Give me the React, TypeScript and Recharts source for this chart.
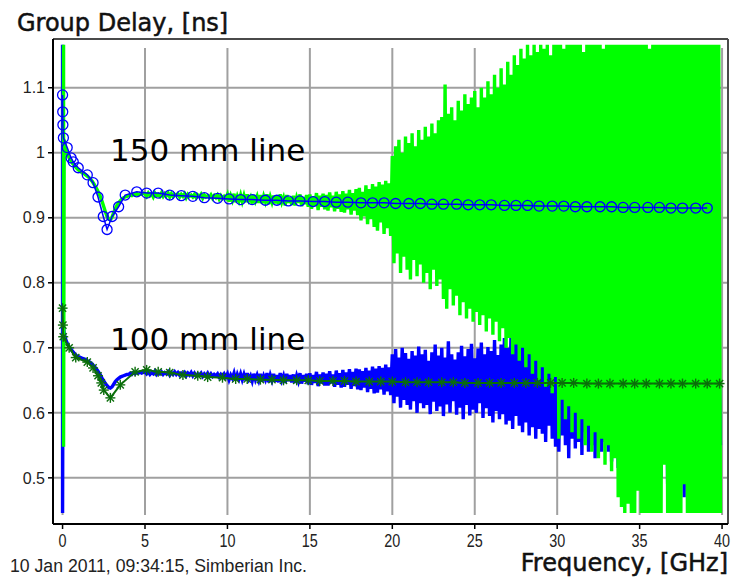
import React from 'react';
import { LineChart, Line, XAxis, YAxis, CartesianGrid, ReferenceLine } from 'recharts';

// ---- axes ----
const X_TICKS = [0, 5, 10, 15, 20, 25, 30, 35, 40];
const Y_TICKS = [0.5, 0.6, 0.7, 0.8, 0.9, 1, 1.1];
const X_DOMAIN: [number, number] = [-0.58, 40.36];
const Y_DOMAIN: [number, number] = [0.429, 1.175];

// ---- measured group delay, sampled every 0.1 GHz from 0.1 to 39.9 GHz ----
const MEAS_STEP = 0.1;

// 150 mm line, measured (green)
const green150Head = [[0.06, 1.166], [0.06, 0.548]];
const green150 = [
  1.020,1.005,0.998,0.992,0.988,0.984,0.981,0.978,0.975,
  0.973,0.971,0.969,0.968,0.966,0.964,0.962,0.959,0.956,0.952,
  0.948,0.943,0.938,0.932,0.925,0.917,0.909,0.902,0.898,0.897,
  0.901,0.908,0.914,0.919,0.923,0.926,0.929,0.931,0.932,0.933,
  0.934,0.935,0.934,0.936,0.935,0.937,0.935,0.937,0.936,0.938,
  0.937,0.933,0.938,0.934,0.937,0.932,0.938,0.934,0.936,0.933,
  0.938,0.933,0.937,0.934,0.938,0.932,0.937,0.933,0.936,0.934,
  0.937,0.932,0.936,0.933,0.937,0.931,0.936,0.933,0.935,0.932,
  0.936,0.931,0.935,0.932,0.936,0.930,0.935,0.932,0.934,0.931,
  0.935,0.930,0.934,0.931,0.935,0.929,0.934,0.930,0.933,0.930,
  0.936,0.925,0.934,0.927,0.937,0.924,0.933,0.926,0.935,0.925,
  0.934,0.924,0.936,0.927,0.932,0.922,0.935,0.926,0.933,0.923,
  0.935,0.922,0.933,0.925,0.936,0.921,0.932,0.924,0.934,0.922,
  0.933,0.921,0.936,0.924,0.931,0.919,0.935,0.923,0.932,0.920,
  0.934,0.919,0.931,0.923,0.936,0.918,0.932,0.921,0.935,0.917,
  0.936,0.914,0.933,0.918,0.938,0.912,0.934,0.917,0.937,0.913,
  0.935,0.911,0.939,0.916,0.934,0.910,0.940,0.914,0.936,0.909,
  0.941,0.908,0.937,0.913,0.943,0.905,0.938,0.911,0.944,0.904,
  0.946,0.896,0.940,0.902,0.950,0.890,0.944,0.898,0.952,0.886,
  0.948,0.880,0.955,0.893,0.951,0.875,0.957,0.884,0.953,0.872,
  0.995,0.830,1.010,0.845,1.020,0.815,1.000,0.840,1.025,0.820,
  1.015,0.805,1.030,0.835,1.010,0.810,1.035,0.828,1.020,0.800,
  1.040,0.815,1.025,0.790,1.045,0.820,1.030,0.795,1.050,0.805,
  1.055,0.775,1.105,0.760,1.060,0.790,1.070,0.765,1.050,0.780,
  1.080,0.750,1.065,0.770,1.090,0.745,1.075,0.760,1.085,0.740,
  1.095,0.755,1.070,0.735,1.100,0.750,1.085,0.725,1.110,0.745,
  1.090,0.720,1.120,0.740,1.100,0.710,1.130,0.730,1.105,0.700,
  1.140,0.715,1.120,0.690,1.150,0.705,1.135,0.680,1.160,0.700,
  1.145,0.670,1.166,0.690,1.150,0.660,1.166,0.680,1.155,0.650,
  1.166,0.670,1.160,0.640,1.166,0.660,1.150,0.630,1.166,0.655,
  1.166,0.560,1.166,0.620,1.160,0.590,1.166,0.610,1.166,0.570,
  1.166,0.600,1.166,0.560,1.166,0.590,1.155,0.550,1.166,0.580,
  1.166,0.540,1.166,0.570,1.166,0.530,1.166,0.560,1.160,0.520,
  1.166,0.550,1.166,0.510,1.166,0.530,1.166,0.470,1.166,0.455,
  1.166,0.446,1.166,0.460,1.166,0.446,1.166,0.446,1.166,0.480,
  1.166,0.446,1.166,0.446,1.166,0.446,1.160,0.446,1.166,0.446,
  1.166,0.446,1.166,0.446,1.166,0.520,1.166,0.446,1.166,0.446,
  1.166,0.446,1.166,0.446,1.166,0.446,1.166,0.490,1.166,0.446,
  1.166,0.446,1.166,0.446,1.166,0.446,1.166,0.446,1.166,0.446,
  1.166,0.446,1.166,0.446,1.166,0.446,1.166,0.446,1.166,0.446,
];

// 100 mm line, measured (blue)
const blue100Head = [[0, 1.166], [0, 0.446], [0.03, 0.738]];
const blue100 = [
  0.722,0.712,0.706,0.701,0.698,0.695,0.692,0.689,0.687,
  0.686,0.685,0.684,0.683,0.682,0.680,0.679,0.677,0.675,0.672,
  0.669,0.666,0.662,0.658,0.653,0.649,0.645,0.642,0.639,0.638,
  0.640,0.644,0.648,0.651,0.653,0.655,0.656,0.657,0.658,0.659,
  0.659,0.661,0.659,0.662,0.660,0.662,0.661,0.663,0.661,0.662,
  0.663,0.660,0.663,0.659,0.662,0.660,0.664,0.659,0.662,0.660,
  0.663,0.659,0.662,0.660,0.663,0.658,0.662,0.659,0.663,0.659,
  0.662,0.658,0.661,0.659,0.662,0.657,0.661,0.658,0.662,0.657,
  0.661,0.657,0.660,0.658,0.661,0.656,0.660,0.657,0.661,0.656,
  0.660,0.656,0.659,0.657,0.660,0.655,0.659,0.656,0.660,0.655,
  0.660,0.651,0.658,0.653,0.661,0.650,0.659,0.652,0.660,0.651,
  0.659,0.650,0.661,0.652,0.657,0.649,0.660,0.651,0.658,0.650,
  0.660,0.648,0.657,0.651,0.661,0.647,0.658,0.650,0.660,0.648,
  0.658,0.647,0.661,0.650,0.657,0.646,0.660,0.649,0.658,0.647,
  0.659,0.646,0.657,0.649,0.661,0.645,0.658,0.648,0.660,0.644,
  0.661,0.643,0.658,0.646,0.663,0.641,0.659,0.645,0.662,0.642,
  0.660,0.642,0.664,0.645,0.659,0.640,0.665,0.643,0.661,0.639,
  0.666,0.640,0.662,0.643,0.667,0.637,0.663,0.641,0.668,0.636,
  0.667,0.635,0.664,0.639,0.669,0.632,0.665,0.637,0.671,0.630,
  0.668,0.631,0.672,0.636,0.669,0.628,0.674,0.633,0.670,0.627,
  0.690,0.615,0.698,0.625,0.685,0.608,0.700,0.620,0.692,0.612,
  0.683,0.605,0.695,0.618,0.688,0.600,0.702,0.615,0.690,0.607,
  0.697,0.612,0.680,0.598,0.693,0.617,0.705,0.603,0.688,0.610,
  0.700,0.595,0.685,0.613,0.710,0.600,0.690,0.618,0.682,0.597,
  0.693,0.608,0.703,0.590,0.687,0.612,0.698,0.596,0.706,0.605,
  0.684,0.600,0.699,0.615,0.708,0.592,0.690,0.607,0.701,0.595,
  0.695,0.585,0.712,0.603,0.689,0.590,0.705,0.598,0.715,0.582,
  0.700,0.588,0.720,0.575,0.707,0.595,0.728,0.580,0.711,0.570,
  0.735,0.585,0.715,0.565,0.745,0.578,0.722,0.560,0.760,0.575,
  0.718,0.568,0.740,0.555,0.725,0.580,0.755,0.560,0.730,0.548,
  0.745,0.540,0.725,0.565,0.760,0.550,0.735,0.530,0.750,0.560,
  0.730,0.545,0.765,0.555,0.740,0.535,0.755,0.570,0.728,0.540,
  0.770,0.550,0.735,0.530,0.750,0.560,0.780,0.540,0.745,0.555,
  0.720,0.540,0.765,0.525,0.740,0.550,0.755,0.515,0.730,0.545,
  0.745,0.530,0.760,0.510,0.735,0.540,0.770,0.500,0.750,0.525,
  0.760,0.505,0.740,0.535,0.775,0.495,0.750,0.520,0.765,0.510,
  0.740,0.525,0.770,0.500,0.755,0.530,0.745,0.490,0.780,0.515,
  0.750,0.495,0.765,0.520,0.740,0.505,0.770,0.470,0.755,0.530,
  0.775,0.500,0.745,0.525,0.760,0.490,0.750,0.515,0.770,0.505,
  0.745,0.520,0.765,0.495,0.750,0.530,0.760,0.505,0.700,0.550,
];

// ---- model (simulated) curves with markers ----
const model150Freq = [
  0, 0.01, 0.02, 0.05, 0.28, 0.52, 0.65, 0.95, 1.5, 1.85, 2.15, 2.47, 2.7, 3.0, 3.4, 3.8, 4.5, 5.1, 5.8, 6.5,
  7.2, 7.9, 8.6, 9.4, 10.1, 10.8, 11.5, 12.3, 13.0, 13.7, 14.4, 15.2, 15.9, 16.6, 17.3, 18.1, 18.8, 19.5,
  20.2, 21.0, 21.7, 22.4, 23.1, 23.9, 24.6, 25.3, 26.0, 26.8, 27.5, 28.2, 28.9, 29.7, 30.4, 31.1, 31.8,
  32.6, 33.3, 34.0, 34.7, 35.5, 36.2, 36.9, 37.6, 38.4, 39.1,
];
const model150 = [
  1.089, 1.063, 1.043, 1.023, 1.008, 0.992, 0.986, 0.977, 0.966, 0.954, 0.932, 0.902, 0.882, 0.902, 0.917, 0.935, 0.940, 0.938, 0.938, 0.935,
  0.934, 0.933, 0.931, 0.930, 0.929, 0.928, 0.928, 0.927, 0.927, 0.926, 0.926, 0.925, 0.925, 0.924, 0.924, 0.923, 0.923, 0.923,
  0.922, 0.922, 0.922, 0.921, 0.921, 0.921, 0.920, 0.920, 0.920, 0.919, 0.919, 0.919, 0.918, 0.918, 0.918, 0.917, 0.917,
  0.917, 0.917, 0.916, 0.916, 0.916, 0.916, 0.915, 0.915, 0.915, 0.915,
];
const model100Freq = [
  0, 0.02, 0.04, 0.4, 0.8, 1.5, 1.85, 2.15, 2.35, 2.5, 2.9, 3.5, 4.4, 5.1, 5.8, 6.5, 7.3, 8.2, 8.8, 9.7, 10.5,
  11.2, 12.0, 12.7, 13.4, 14.2, 14.9, 15.6, 16.4, 17.1, 17.8, 18.6, 19.3, 20.0, 20.8, 21.5, 22.2, 23.0, 23.7,
  24.4, 25.2, 25.9, 26.6, 27.4, 28.1, 28.8, 29.6, 30.3, 31.0, 31.8, 32.5, 33.2, 34.0, 34.7, 35.4, 36.2, 36.9,
  37.6, 38.4, 39.1, 39.85,
];
const model100 = [
  0.761, 0.735, 0.717, 0.700, 0.685, 0.678, 0.669, 0.657, 0.646, 0.635, 0.623, 0.643, 0.663, 0.666, 0.663, 0.662, 0.658, 0.657, 0.655, 0.654, 0.652,
  0.652, 0.651, 0.651, 0.650, 0.650, 0.650, 0.649, 0.649, 0.649, 0.648, 0.648, 0.648, 0.648, 0.647, 0.647, 0.647, 0.647, 0.647,
  0.646, 0.646, 0.646, 0.646, 0.646, 0.646, 0.646, 0.646, 0.646, 0.646, 0.645, 0.645, 0.645, 0.645, 0.645, 0.645, 0.645, 0.645,
  0.645, 0.645, 0.645, 0.645,
];

// ---- build point lists ----
type Pt = { f: number; v: number };
const measured = (head: number[][], vals: number[]): Pt[] => [
  ...head.map(([f, v]) => ({ f, v })),
  ...vals.map((v, i) => ({ f: Math.round((i + 1) * MEAS_STEP * 100) / 100, v })),
];
const paired = (fs: number[], vs: number[]): Pt[] => fs.map((f, i) => ({ f, v: vs[i] }));

const green150Pts = measured(green150Head, green150);
const blue100Pts = measured(blue100Head, blue100);
const model150Pts = paired(model150Freq, model150);
const model100Pts = paired(model100Freq, model100);

const BLUE = '#0000ff';
const GREEN = '#00ff00';
const DARK_GREEN = '#0b6e0b';

const Asterisk = (props: any) => {
  const { cx, cy, index } = props;
  if (cx == null || cy == null) return <g key={`a${index}`} />;
  const r = 5;
  const d = 3.6;
  return (
    <g key={`a${index}`} stroke={DARK_GREEN} strokeWidth={1.4}>
      <line x1={cx - r} y1={cy} x2={cx + r} y2={cy} />
      <line x1={cx} y1={cy - r} x2={cx} y2={cy + r} />
      <line x1={cx - d} y1={cy - d} x2={cx + d} y2={cy + d} />
      <line x1={cx - d} y1={cy + d} x2={cx + d} y2={cy - d} />
    </g>
  );
};

const XTick = (props: any) => {
  const { x, y, payload } = props;
  return (
    <text
      transform={`translate(${x},${y}) scale(0.8,1)`}
      textAnchor="middle"
      dy="0.75em"
      fill="#222"
      fontSize={18}
      fontFamily="'Liberation Sans', Arial, sans-serif"
    >
      {payload.value}
    </text>
  );
};

const verticalGrid = (p: any) => (
  <line
    key={p.key ?? `v${p.index}`}
    x1={p.x1}
    x2={p.x2}
    y1={Math.min(p.y1, p.y2) + 9}
    y2={Math.max(p.y1, p.y2) - 9}
    stroke="#a0a0a0"
    strokeWidth={2}
  />
);

export default function App() {
  return (
    <div style={{ position: 'absolute', left: 0, top: 0, width: 739, height: 579, background: '#fff' }}>
      <LineChart width={739} height={579} margin={{ top: 39, right: 11, bottom: 0, left: 0 }}>
        <CartesianGrid stroke="#a0a0a0" strokeWidth={2} vertical={verticalGrid} />
        <XAxis
          type="number"
          dataKey="f"
          domain={X_DOMAIN}
          ticks={X_TICKS}
          allowDataOverflow
          interval={0}
          height={55}
          tickSize={5}
          tickMargin={4}
          tick={<XTick />}
          axisLine={{ stroke: '#000', strokeWidth: 2 }}
          tickLine={{ stroke: '#000', strokeWidth: 1.5 }}
        />
        <YAxis
          type="number"
          domain={Y_DOMAIN}
          ticks={Y_TICKS}
          allowDataOverflow
          interval={0}
          width={53}
          tickSize={5}
          tickMargin={3}
          tick={{ fill: '#222', fontSize: 16, fontFamily: "'Liberation Sans', Arial, sans-serif" }}
          axisLine={{ stroke: '#000', strokeWidth: 2 }}
          tickLine={{ stroke: '#000', strokeWidth: 1.5 }}
        />
        <ReferenceLine y={Y_DOMAIN[1]} stroke="#4a4a4a" strokeWidth={2} />
        <ReferenceLine x={X_DOMAIN[1]} stroke="#4a4a4a" strokeWidth={2} />
        <Line
          data={blue100Pts}
          dataKey="v"
          type="linear"
          stroke={BLUE}
          strokeWidth={3.4}
          strokeLinejoin="miter"
          dot={false}
          activeDot={false}
          isAnimationActive={false}
        />
        <Line
          data={green150Pts}
          dataKey="v"
          type="linear"
          stroke={GREEN}
          strokeWidth={3.4}
          strokeLinejoin="miter"
          dot={false}
          activeDot={false}
          isAnimationActive={false}
        />
        <Line
          data={model150Pts}
          dataKey="v"
          type="linear"
          stroke={BLUE}
          strokeWidth={1.5}
          dot={{ r: 5, stroke: BLUE, strokeWidth: 1.3, fill: 'none' }}
          activeDot={false}
          isAnimationActive={false}
        />
        <Line
          data={model100Pts}
          dataKey="v"
          type="linear"
          stroke={DARK_GREEN}
          strokeWidth={2}
          dot={(p: any) => <Asterisk key={`a${p.index}`} {...p} />}
          activeDot={false}
          isAnimationActive={false}
        />
      </LineChart>
      <svg
        width={739}
        height={579}
        style={{ position: 'absolute', left: 0, top: 0, pointerEvents: 'none' }}
      >
        <text x={17} y={31} fontSize={24} fontFamily="'DejaVu Sans', Verdana, sans-serif" fill="#111" stroke="#111" strokeWidth={0.5}>
          Group Delay, [ns]
        </text>
        <text x={728} y={571} textAnchor="end" fontSize={24} fontFamily="'DejaVu Sans', Verdana, sans-serif" fill="#111" stroke="#111" strokeWidth={0.5}>
          Frequency, [GHz]
        </text>
        <text
          transform="translate(10,572) scale(0.93,1)"
          fontSize={19}
          fontFamily="'Liberation Sans', Arial, sans-serif"
          fill="#222"
        >
          10 Jan 2011, 09:34:15, Simberian Inc.
        </text>
        <text x={110} y={161} fontSize={31} fontFamily="'DejaVu Sans', Verdana, sans-serif" fill="#000">
          150 mm line
        </text>
        <text x={110} y={350} fontSize={31} fontFamily="'DejaVu Sans', Verdana, sans-serif" fill="#000">
          100 mm line
        </text>
      </svg>
    </div>
  );
}
